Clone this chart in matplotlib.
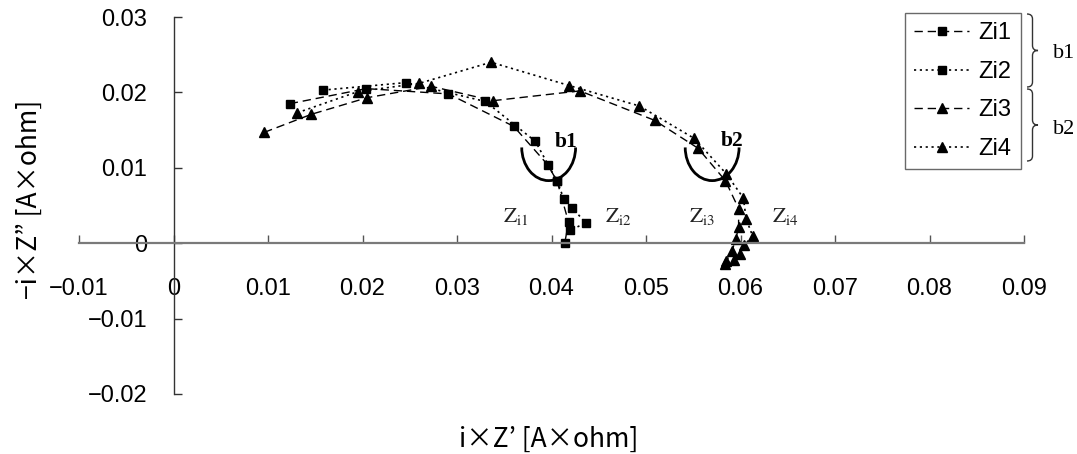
import matplotlib
matplotlib.use("Agg")
import matplotlib.pyplot as plt
from matplotlib.patches import Arc, PathPatch
from matplotlib.path import Path

plt.rcParams['font.family'] = ['Liberation Sans', 'DejaVu Sans']
plt.rcParams['mathtext.fontset'] = 'stix'

# ---- data ----
zi1_x = [0.0123, 0.0204, 0.0291, 0.0360, 0.0396, 0.0406, 0.0418, 0.0414]
zi1_y = [0.0185, 0.0205, 0.0198, 0.0155, 0.0104, 0.0082, 0.0028, 0.0000]

zi2_x = [0.0158, 0.0246, 0.0330, 0.0383, 0.0406, 0.0413, 0.0422, 0.0436, 0.0420]
zi2_y = [0.0203, 0.0213, 0.0188, 0.0135, 0.0082, 0.0059, 0.0047, 0.0027, 0.0017]

zi3_x = [0.0096, 0.0146, 0.0205, 0.0273, 0.0338, 0.0430, 0.0509, 0.0555, 0.0584,
         0.0598, 0.0598, 0.0595, 0.0591, 0.0585]
zi3_y = [0.0147, 0.0171, 0.0193, 0.0208, 0.0189, 0.0202, 0.0163, 0.0126, 0.0083,
         0.0046, 0.0022, 0.0005, -0.0010, -0.0024]

zi4_x = [0.0131, 0.0195, 0.0260, 0.0336, 0.0419, 0.0493, 0.0551, 0.0585, 0.0603,
         0.0606, 0.0613, 0.0604, 0.0599, 0.0593, 0.0584]
zi4_y = [0.0173, 0.0201, 0.0212, 0.0240, 0.0209, 0.0182, 0.0139, 0.0092, 0.0060,
         0.0032, 0.0009, -0.0002, -0.0014, -0.0022, -0.0027]

series_names = ["Zi1", "Zi2", "Zi3", "Zi4"]
x_ticks = [-0.01, 0, 0.01, 0.02, 0.03, 0.04, 0.05, 0.06, 0.07, 0.08, 0.09]
y_ticks = [-0.02, -0.01, 0, 0.01, 0.02, 0.03]
x_tick_labels = ["\u22120.01", "0", "0.01", "0.02", "0.03", "0.04", "0.05", "0.06", "0.07", "0.08", "0.09"]
y_tick_labels = ["\u22120.02", "\u22120.01", "0", "0.01", "0.02", "0.03"]

W, H = 1077, 454
fig = plt.figure(figsize=(W / 100, H / 100), dpi=100)
ax = fig.add_axes([79 / W, 1 - 394 / H, 945 / W, 377 / H])
ax.set_xlim(-0.01, 0.09)
ax.set_ylim(-0.02, 0.03)

dash = (0, (6, 3.5))
dot = (0, (1.3, 2.2))
ax.plot(zi1_x, zi1_y, linestyle=dash, color='black', lw=1.0, marker='s', ms=5.5, label=series_names[0])
ax.plot(zi2_x, zi2_y, linestyle=dot, color='black', lw=1.2, marker='s', ms=5.5, label=series_names[1])
ax.plot(zi3_x, zi3_y, linestyle=dash, color='black', lw=1.0, marker='^', ms=7, label=series_names[2])
ax.plot(zi4_x, zi4_y, linestyle=dot, color='black', lw=1.2, marker='^', ms=7, label=series_names[3])

# spines through zero
for s in ['top', 'right']:
    ax.spines[s].set_visible(False)
ax.spines['left'].set_position(('data', 0))
ax.spines['bottom'].set_position(('data', 0))
ax.spines['bottom'].set_color('#7a7a7a')
ax.spines['bottom'].set_linewidth(1.6)
ax.spines['left'].set_color('#333333')
ax.spines['left'].set_linewidth(1.0)

ax.set_xticks(x_ticks)
ax.set_xticklabels(x_tick_labels)
ax.set_yticks(y_ticks)
ax.set_yticklabels(y_tick_labels)
ax.tick_params(axis='x', direction='in', length=6, width=1.0, color='#555555', pad=25, labelsize=17)
ax.tick_params(axis='y', direction='in', length=6, width=1.0, color='#333333', pad=19, labelsize=17)

ax.set_xlabel("i\u00d7Z\u2019 [A\u00d7ohm]", fontsize=19, family=['Noto Sans CJK JP', 'DejaVu Sans'])
ax.xaxis.set_label_coords(0.497, -0.085)
ax.set_ylabel("\u2212i\u00d7Z\u201d [A\u00d7ohm]", fontsize=19, family=['Noto Sans CJK JP', 'DejaVu Sans'])
ax.yaxis.set_label_coords(-0.038, 0.515)

# arcs and annotations
for cx in (0.0397, 0.0570):
    ax.add_patch(Arc((cx, 0.0127), 0.0057, 0.0088, theta1=180, theta2=360,
                     color='black', lw=2.0, zorder=1))
ax.text(0.0415, 0.0134, "b1", fontsize=15.5, fontweight='bold', family='Liberation Serif',
        ha='center', va='center')
ax.text(0.0591, 0.0136, "b2", fontsize=15.5, fontweight='bold', family='Liberation Serif',
        ha='center', va='center')
for lx, num in zip((0.0362, 0.0471, 0.0559, 0.0647), ("i1", "i2", "i3", "i4")):
    ax.text(lx, 0.0036, r"$\mathrm{Z}_{\mathrm{%s}}$" % num, fontsize=15.5,
            ha='center', va='center', color='#222222')

# legend
leg = ax.legend(loc='upper left', bbox_to_anchor=(905 / W, 1 - 13 / H), bbox_transform=fig.transFigure,
                borderaxespad=0, fontsize=17, frameon=True, fancybox=False, edgecolor='#444444',
                handlelength=2.3, handletextpad=0.4, borderpad=0.4, labelspacing=0.7, numpoints=1)
leg.get_frame().set_linewidth(1.0)

# braces
def brace(x0, yt, yb, w):
    ym = (yt + yb) / 2
    xm = x0 + w * 0.5
    xt = x0 + w
    r = 5
    verts = [(x0, yt), (xm, yt), (xm, yt + r),
             (xm, ym - r),
             (xm, ym), (xt, ym),
             (xm, ym), (xm, ym + r),
             (xm, yb - r),
             (xm, yb), (x0, yb)]
    codes = [Path.MOVETO, Path.CURVE3, Path.CURVE3,
             Path.LINETO,
             Path.CURVE3, Path.CURVE3,
             Path.CURVE3, Path.CURVE3,
             Path.LINETO,
             Path.CURVE3, Path.CURVE3]
    verts = [(vx / W, 1 - vy / H) for vx, vy in verts]
    fig.add_artist(PathPatch(Path(verts, codes), fill=False, lw=1.0,
                             edgecolor='#333333', transform=fig.transFigure))

brace(1027, 14, 87, 11)
brace(1027, 89, 161, 11)
fig.text(1064 / W, 1 - 53 / H, "b1", fontsize=16, family='Liberation Serif', ha='center', va='center')
fig.text(1064 / W, 1 - 129 / H, "b2", fontsize=16, family='Liberation Serif', ha='center', va='center')

fig.savefig("out.png", dpi=100)
